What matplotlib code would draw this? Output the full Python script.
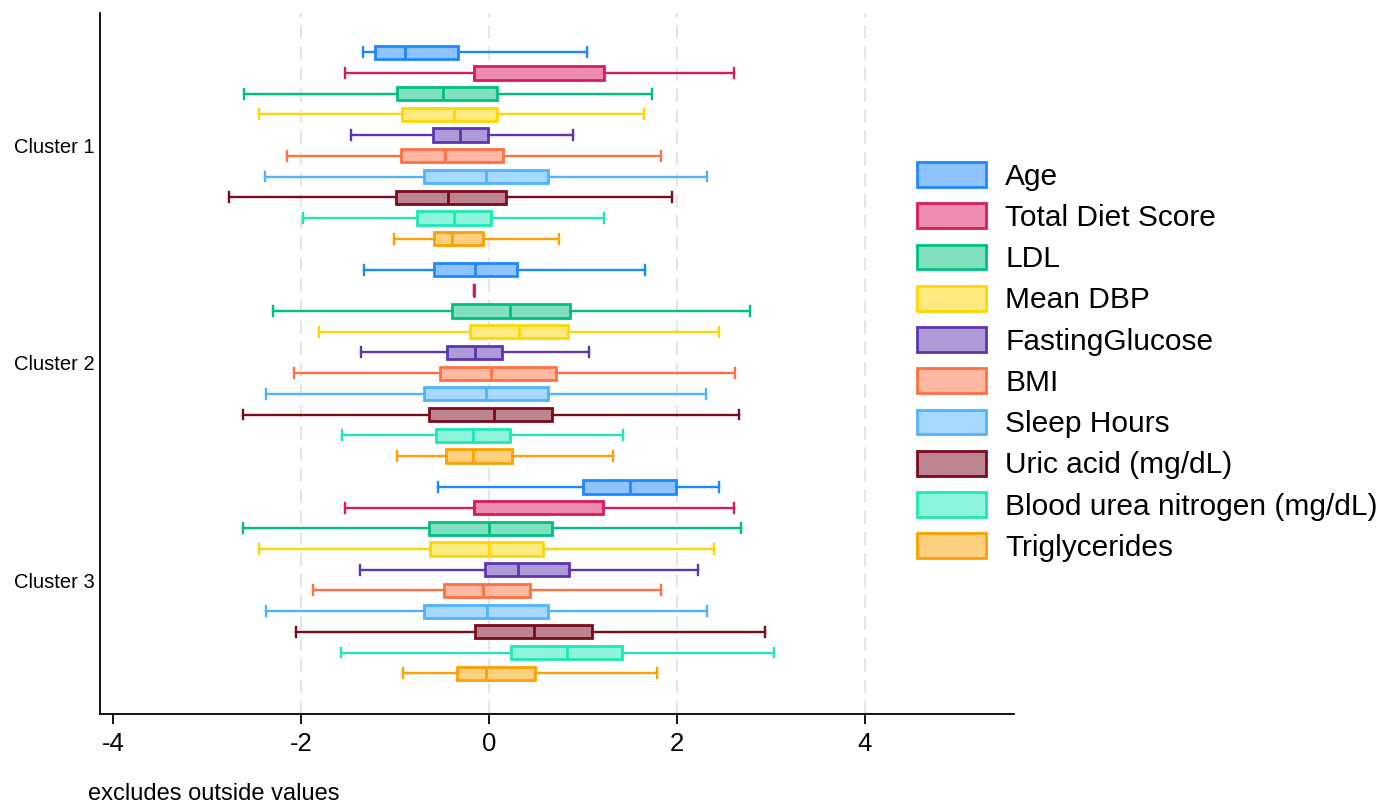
import matplotlib
matplotlib.use('Agg')
import matplotlib.pyplot as plt
from matplotlib.patches import Patch
from matplotlib.colors import to_rgb

plt.rcParams['font.family'] = ['Liberation Sans', 'DejaVu Sans']

clusters = ['Cluster 1', 'Cluster 2', 'Cluster 3']
variables = ['Age', 'Total Diet Score', 'LDL', 'Mean DBP', 'FastingGlucose', 'BMI',
             'Sleep Hours', 'Uric acid (mg/dL)', 'Blood urea nitrogen (mg/dL)', 'Triglycerides']
colors = ['#1E88FF', '#D81B60', '#00C07F', '#FFD700', '#5E35B1', '#FF7043',
          '#4FB3FF', '#7B0A1F', '#1DE9B6', '#FFA000']

# per variable, values for [Cluster 1, Cluster 2, Cluster 3]
whislo = [[-1.34, -1.33, -0.54], [-1.53, -0.155, -1.53], [-2.61, -2.30, -2.62],
          [-2.45, -1.81, -2.45], [-1.47, -1.36, -1.37], [-2.15, -2.07, -1.87],
          [-2.38, -2.376, -2.377], [-2.762, -2.62, -2.055], [-1.975, -1.567, -1.57],
          [-1.014, -0.977, -0.913]]
q1 = [[-1.21, -0.59, 1.00], [-0.155, -0.155, -0.155], [-0.98, -0.39, -0.635],
      [-0.93, -0.20, -0.63], [-0.60, -0.45, -0.04], [-0.94, -0.525, -0.476],
      [-0.695, -0.692, -0.688], [-0.993, -0.639, -0.146], [-0.762, -0.562, 0.238],
      [-0.585, -0.452, -0.344]]
med = [[-0.89, -0.15, 1.50], [-0.155, -0.155, -0.155], [-0.49, 0.22, 0.0],
       [-0.37, 0.32, 0.0], [-0.305, -0.146, 0.304], [-0.465, 0.02, -0.062],
       [-0.032, -0.033, -0.026], [-0.44, 0.053, 0.476], [-0.369, -0.171, 0.829],
       [-0.397, -0.175, -0.031]]
q3 = [[-0.33, 0.30, 1.99], [1.22, -0.155, 1.21], [0.09, 0.86, 0.675],
      [0.09, 0.84, 0.57], [-0.014, 0.138, 0.847], [0.152, 0.716, 0.437],
      [0.624, 0.627, 0.626], [0.181, 0.671, 1.098], [0.018, 0.22, 1.42],
      [-0.064, 0.244, 0.49]]
whishi = [[1.04, 1.66, 2.45], [2.61, -0.155, 2.61], [1.73, 2.78, 2.68],
          [1.645, 2.45, 2.395], [0.894, 1.062, 2.223], [1.833, 2.621, 1.835],
          [2.32, 2.311, 2.315], [1.95, 2.657, 2.937], [1.227, 1.428, 3.034],
          [0.741, 1.322, 1.786]]
xticks = [-4, -2, 0, 2, 4]
gridx = [-2, 0, 2, 4]


def light(c, a=0.5):
    r, g, b = to_rgb(c)
    return (1 - a + a * r, 1 - a + a * g, 1 - a + a * b)


fig = plt.figure(figsize=(13.78, 8.05), dpi=100)
ax = fig.add_axes([100 / 1378, 1 - 714 / 805, (1013 - 99) / 1378, (714 - 13) / 805])

for gx in gridx:
    ax.axvline(gx, color='#e6e6e6', lw=1.6, ls=(0, (6, 3.5)), zorder=0)

gap = 10.5
nvar = len(variables)
for i, (var, col) in enumerate(zip(variables, colors)):
    stats = []
    pos = []
    for c in range(len(clusters)):
        stats.append(dict(med=med[i][c], q1=q1[i][c], q3=q3[i][c],
                          whislo=whislo[i][c], whishi=whishi[i][c], fliers=[]))
        pos.append(c * gap + i)
    kw = dict(positions=pos, widths=0.64, capwidths=0.48, patch_artist=True,
              showfliers=False, manage_ticks=False,
              boxprops=dict(facecolor=light(col), edgecolor=col, linewidth=2.0),
              medianprops=dict(color=col, linewidth=2.0),
              whiskerprops=dict(color=col, linewidth=1.7),
              capprops=dict(color=col, linewidth=1.7))
    try:
        ax.bxp(stats, orientation='horizontal', **kw)
    except TypeError:
        ax.bxp(stats, vert=False, **kw)

ax.set_xlim(-4.138, 5.585)
ax.set_ylim(31.97, -1.9)
ax.set_xticks(xticks)
ax.set_xticklabels([str(t) for t in xticks], fontsize=18.5)
ax.tick_params(axis='x', length=7, width=1.3, pad=6, color='black')
ax.set_yticks([c * gap + (nvar - 1) / 2 for c in range(len(clusters))])
ax.set_yticklabels(clusters, fontsize=14.5)
ax.tick_params(axis='y', length=0, pad=4)
for s in ['top', 'right']:
    ax.spines[s].set_visible(False)
for s in ['left', 'bottom']:
    ax.spines[s].set_linewidth(1.3)

handles = [Patch(facecolor=light(c), edgecolor=c, linewidth=2.0) for c in colors]
fig.legend(handles, variables, loc='center left', bbox_to_anchor=(917 / 1378, 1 - 362 / 805),
           frameon=False, fontsize=21.5, handlelength=2.3, handleheight=0.9,
           handletextpad=0.65, labelspacing=0.42, borderpad=0, borderaxespad=0)

fig.text(88 / 1378, 5 / 805, 'excludes outside values', fontsize=17, ha='left', va='baseline')

fig.savefig('out.png', dpi=100)
